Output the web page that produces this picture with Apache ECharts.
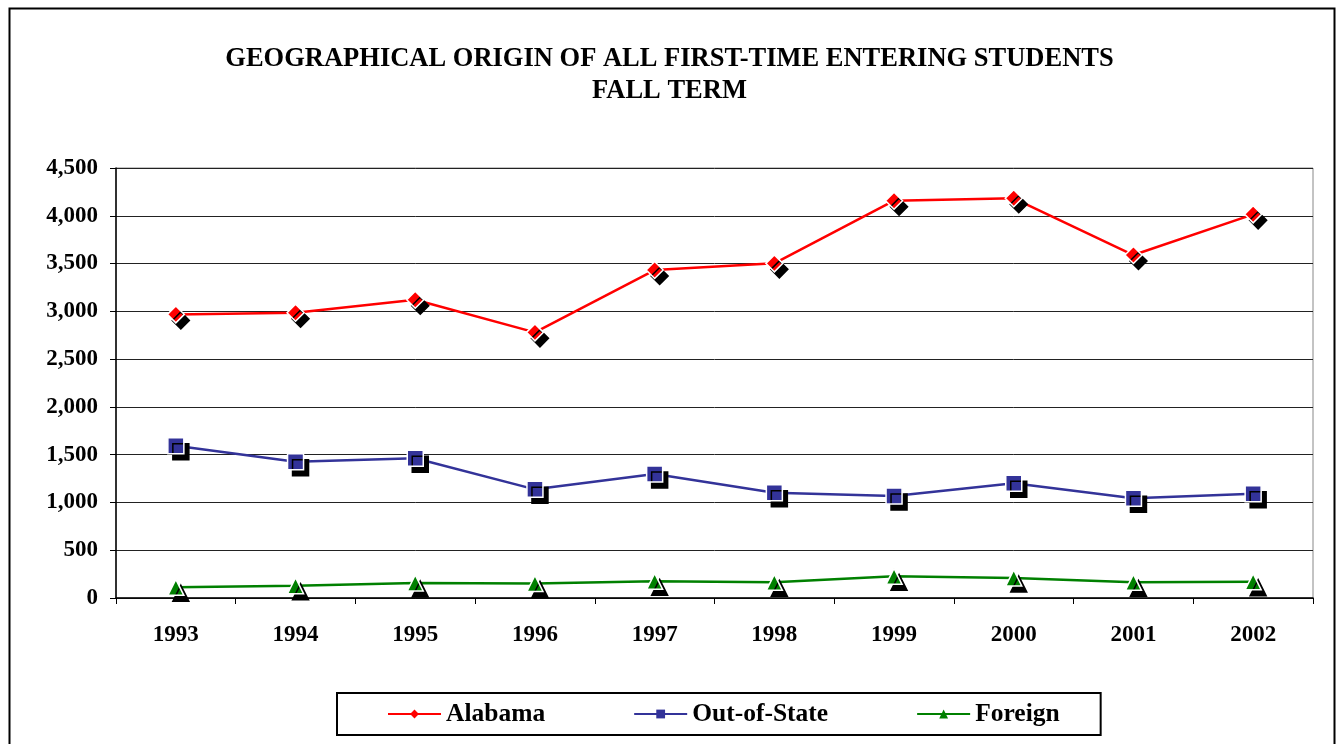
<!DOCTYPE html>
<html>
<head>
<meta charset="utf-8">
<title>Geographical Origin of First-Time Entering Students</title>
<script src="https://cdn.jsdelivr.net/npm/echarts@6/dist/echarts.min.js"></script>
<style>
  html, body { margin: 0; padding: 0; background: #fff; }
  #chart { width: 1339px; height: 744px; }
</style>
</head>
<body>
<div id="chart"></div>
<script>
// data
const years = ['1993', '1994', '1995', '1996', '1997', '1998', '1999', '2000', '2001', '2002'];
const alabama = [2968, 2986, 3122, 2780, 3432, 3502, 4158, 4183, 3589, 4015];
const outOfState = [1594, 1427, 1462, 1137, 1298, 1102, 1067, 1200, 1043, 1092];
const foreign = [112, 129, 157, 153, 174, 164, 227, 209, 164, 171];
const yTicks = { min: 0, max: 4500, interval: 500 };

const serif = '"Liberation Serif", "DejaVu Serif", serif';

const chart = echarts.init(document.getElementById('chart'));

// shadowed marker with white outline, like the old spreadsheet chart
function makeSeries(name, data, color, symbol, size) {
    return {
        name: name,
        type: 'line',
        data: data,
        symbol: symbol,
        symbolSize: size,
        showAllSymbol: true,
        z: 3,
        lineStyle: { color: color, width: 2.5 },
        itemStyle: {
            color: color,
            borderColor: '#fff',
            borderWidth: 1.5,
            shadowColor: '#000',
            shadowBlur: 0,
            shadowOffsetX: 5,
            shadowOffsetY: 6
        },
        emphasis: { disabled: true }
    };
}

const option = {
    backgroundColor: '#fff',
    animation: false,
    title: {
        text: 'GEOGRAPHICAL ORIGIN OF ALL FIRST-TIME ENTERING STUDENTS\nFALL TERM',
        left: 'center',
        top: 38,
        textStyle: {
            fontFamily: serif,
            fontWeight: 'bold',
            fontSize: 26.5,
            lineHeight: 32,
            color: '#000'
        }
    },
    grid: {
        left: 116,
        right: 26,
        top: 168,
        bottom: 146,
        show: true,
        borderColor: '#888',
        borderWidth: 1
    },
    legend: {
        bottom: 9,
        left: 337,
        itemGap: 88,
        itemWidth: 53,
        itemHeight: 11,
        padding: [8, 41, 8, 50],
        borderColor: '#000',
        borderWidth: 2,
        textStyle: {
            fontFamily: serif,
            fontWeight: 'bold',
            fontSize: 25.5,
            color: '#000'
        },
        itemStyle: { shadowOffsetX: 0, shadowOffsetY: 0, borderWidth: 0 },
        data: ['Alabama', 'Out-of-State', 'Foreign']
    },
    xAxis: {
        type: 'category',
        data: years,
        boundaryGap: true,
        axisLine: { lineStyle: { color: '#000', width: 1.5 } },
        axisTick: { show: true, inside: false, length: 6, lineStyle: { color: '#000' } },
        axisLabel: {
            margin: 26,
            fontFamily: serif,
            fontWeight: 'bold',
            fontSize: 23,
            color: '#000'
        },
        splitLine: { show: false }
    },
    yAxis: {
        type: 'value',
        min: yTicks.min,
        max: yTicks.max,
        interval: yTicks.interval,
        axisLine: { show: true, lineStyle: { color: '#000', width: 1.5 } },
        axisTick: { show: true, length: 6, lineStyle: { color: '#000' } },
        axisLabel: {
            margin: 18,
            fontFamily: serif,
            fontWeight: 'bold',
            fontSize: 23,
            color: '#000',
            formatter: v => v.toLocaleString('en-US')
        },
        splitLine: { show: true, lineStyle: { color: '#222', width: 1 } }
    },
    graphic: [{
        type: 'rect',
        shape: { x: 9.5, y: 8.5, width: 1325, height: 760 },
        style: { fill: 'none', stroke: '#000', lineWidth: 2 },
        silent: true,
        z: 100
    }],
    series: [
        makeSeries('Alabama', alabama, '#ff0000', 'diamond', 17),
        makeSeries('Out-of-State', outOfState, '#333399', 'rect', 16),
        makeSeries('Foreign', foreign, '#008000', 'triangle', 16)
    ]
};

chart.setOption(option);
</script>
</body>
</html>
